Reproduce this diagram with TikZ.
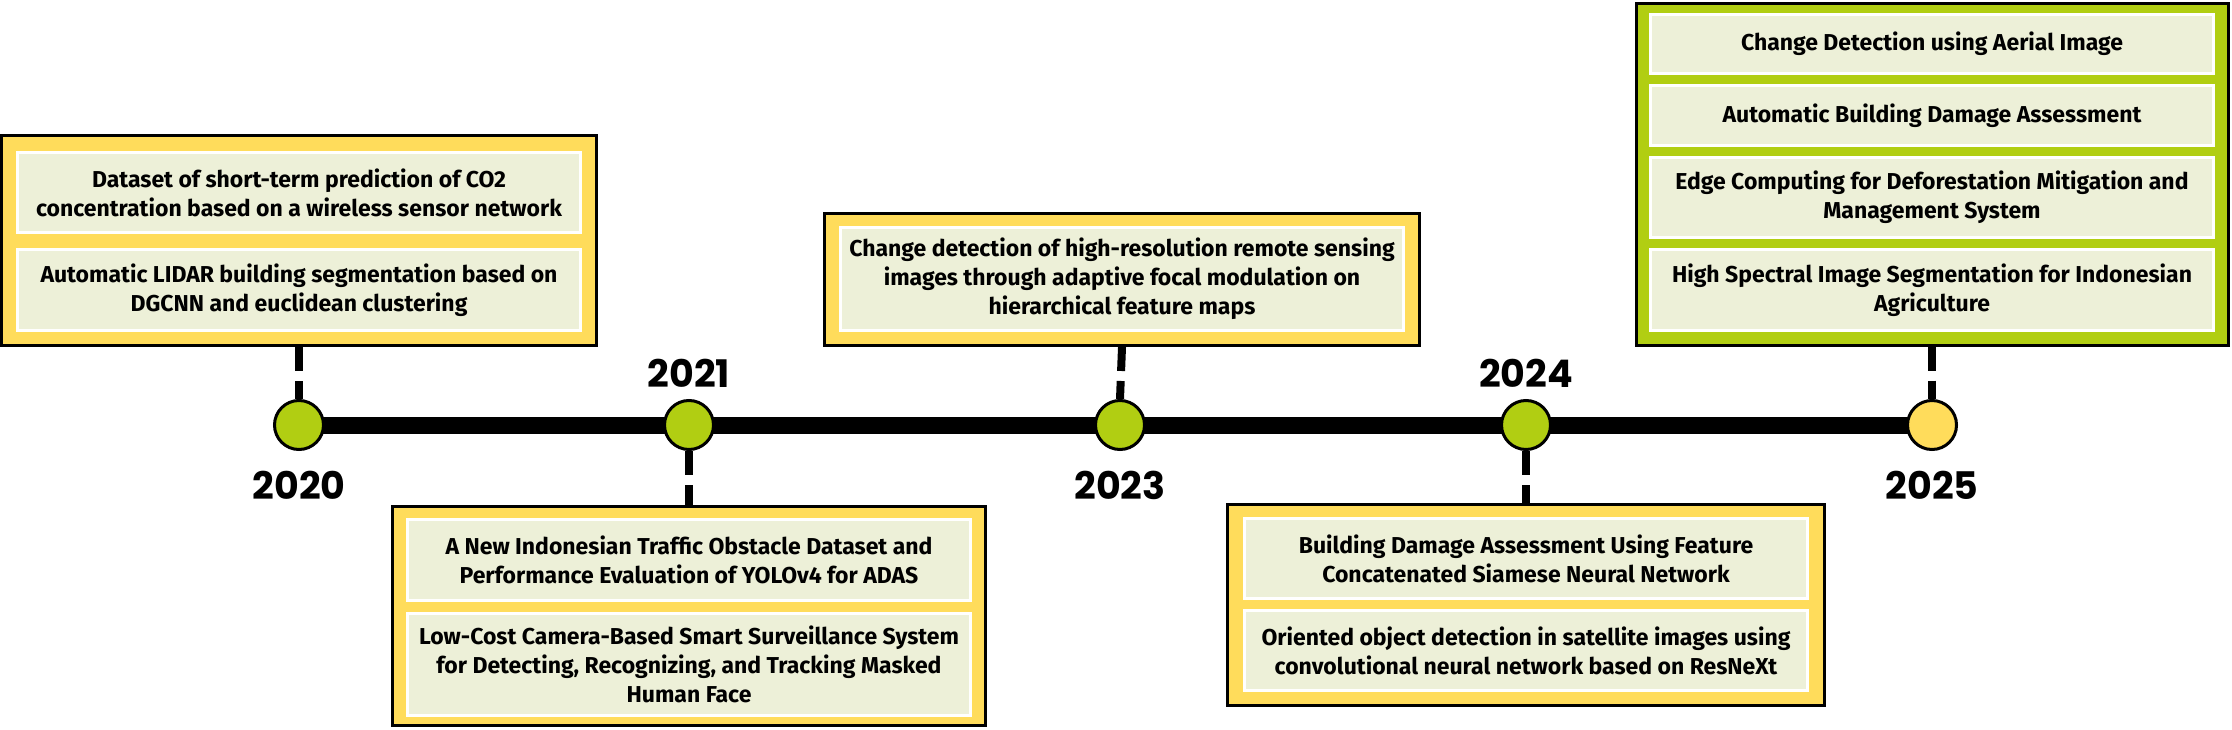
\documentclass[tikz,border=0pt]{standalone}
\usepackage{fontspec}
\setmainfont{Fira Sans}
\newfontfamily\yearfont{Poppins}
\usetikzlibrary{backgrounds}
\definecolor{tlyellow}{HTML}{FFDC5B}
\definecolor{tlgreen}{HTML}{B1CE12}
\definecolor{tlcream}{HTML}{EDF0D8}
\begin{document}
\begin{tikzpicture}[x=1pt,y=-1pt,
  frame/.style={draw=black, line width=3pt, inner sep=0pt},
  yframe/.style={frame, fill=tlyellow},
  gframe/.style={frame, fill=tlgreen},
  panel/.style={draw=white, line width=3pt, fill=tlcream, inner sep=0pt,
    minimum width=563pt, align=center,
    font=\bfseries\fontsize{23}{29}\selectfont},
  dot/.style={circle, draw=black, line width=3pt, fill=tlgreen,
    minimum size=49pt, inner sep=0pt},
  ydot/.style={dot, fill=tlyellow},
  year/.style={font=\yearfont\bfseries\fontsize{38}{38}\selectfont, inner sep=0pt},
  tick/.style={line width=8pt, dash pattern=on 24pt off 10pt},
  spine/.style={line width=17pt}
]
\useasboundingbox (0,0) rectangle (2232,730);

% frames
\node[yframe, minimum width=595pt, minimum height=210pt] (b20) at (299,240.5) {};
\node[yframe, minimum width=593pt, minimum height=219pt] (b21) at (689,616) {};
\node[yframe, minimum width=595pt, minimum height=132pt] (b23) at (1122,279.5) {};
\node[yframe, minimum width=597pt, minimum height=201pt] (b24) at (1526,605) {};
\node[gframe, minimum width=592pt, minimum height=341pt] (b25) at (1932,174.5) {};

% panels 2020
\node[panel, minimum height=80pt] (p20a) at (299,192.5)
  {Dataset of short-term prediction of CO2\\concentration based on a wireless sensor network};
\node[panel, minimum height=81pt] (p20b) at (299,290)
  {Automatic LIDAR building segmentation based on\\DGCNN and euclidean clustering};
% panels 2021
\node[panel, minimum height=81pt] (p21a) at (689,560)
  {A New Indonesian Traffic Obstacle Dataset and\\Performance Evaluation of YOLOv4 for ADAS};
\node[panel, minimum height=102pt] (p21b) at (689,664.5)
  {Low-Cost Camera-Based Smart Surveillance System\\for Detecting, Recognizing, and Tracking Masked\\Human Face};
% panel 2023
\node[panel, minimum height=103pt] (p23a) at (1122,279)
  {Change detection of high-resolution remote sensing\\images through adaptive focal modulation on\\hierarchical feature maps};
% panels 2024
\node[panel, minimum height=80pt] (p24a) at (1526,558.5)
  {Building Damage Assessment Using Feature\\Concatenated Siamese Neural Network};
\node[panel, minimum height=80pt] (p24b) at (1526,650.5)
  {Oriented object detection in satellite images using\\convolutional neural network based on ResNeXt};
% panels 2025
\node[panel, minimum height=59pt] (p25a) at (1932,44)
  {Change Detection using Aerial Image};
\node[panel, minimum height=60pt] (p25b) at (1932,115.5)
  {Automatic Building Damage Assessment};
\node[panel, minimum height=80pt] (p25c) at (1932,197.5)
  {Edge Computing for Deforestation Mitigation and\\Management System};
\node[panel, minimum height=81pt] (p25d) at (1932,290)
  {High Spectral Image Segmentation for Indonesian\\Agriculture};

% timeline dots
\node[dot] (c20) at (299,425) {};
\node[dot] (c21) at (689,425) {};
\node[dot] (c23) at (1120,425) {};
\node[dot] (c24) at (1526,425) {};
\node[ydot] (c25) at (1932,425) {};

\begin{scope}[on background layer]
  \draw[spine] (c20.center) -- (c21.center) -- (c23.center) -- (c24.center) -- (c25.center);
\end{scope}

% connectors
\draw[tick] (b20.south) -- (c20.north);
\draw[tick] (c21.south) -- (b21.north);
\draw[tick] (b23.south) -- (c23.north);
\draw[tick] (c24.south) -- (b24.north);
\draw[tick] (b25.south) -- (c25.north);

% years
\node[year] (y20) at (299,485) {2020};
\node[year] (y21) at (689,373) {2021};
\node[year] (y23) at (1120,485) {2023};
\node[year] (y24) at (1526,373) {2024};
\node[year] (y25) at (1932,485) {2025};
\end{tikzpicture}
\end{document}
